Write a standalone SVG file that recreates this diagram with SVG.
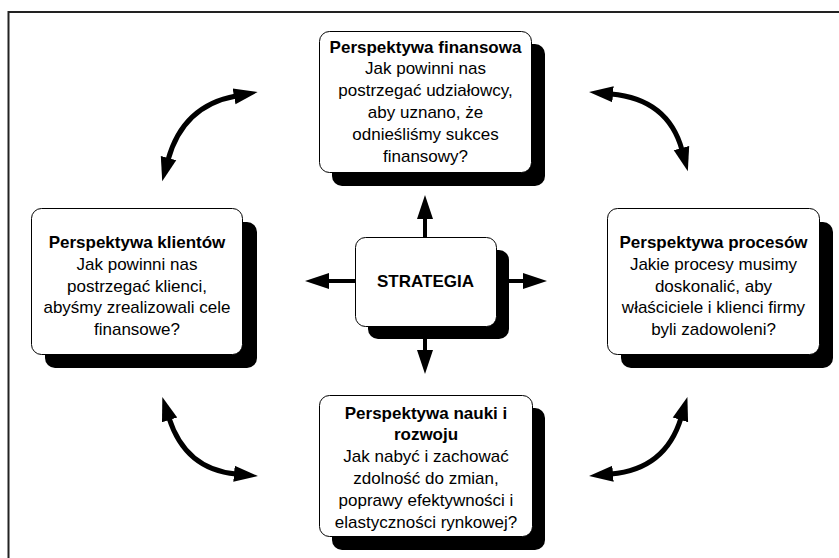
<svg xmlns="http://www.w3.org/2000/svg" width="839" height="558" viewBox="0 0 839 558">
<style>
  .frame{fill:none;stroke:#222;stroke-width:2}
  .shadow{fill:#000}
  .box{fill:#fff;stroke:#000;stroke-width:1}
  .t{font-family:"Liberation Sans",Arial,sans-serif;font-size:17px;fill:#000;text-anchor:middle}
  .b{font-weight:bold}
  .straight{fill:none;stroke:#000;stroke-width:4}
  .curve{fill:none;stroke:#000;stroke-width:5}
</style>
<defs>
  <marker id="head" markerUnits="userSpaceOnUse" markerWidth="26" markerHeight="20" viewBox="0 0 26 20" refX="2" refY="10" orient="auto-start-reverse">
    <path d="M0,2 L24,10 L0,18 z" fill="#000"/>
  </marker>
</defs>
<rect width="839" height="558" fill="#fff"/>
<path class="frame" d="M8.5,558 V12 H839"/>

<g id="connectors">
  <line class="straight" x1="425" y1="281" x2="425" y2="217" marker-end="url(#head)"/>
  <line class="straight" x1="425" y1="281" x2="425" y2="352" marker-end="url(#head)"/>
  <line class="straight" x1="425" y1="281" x2="327" y2="281" marker-end="url(#head)"/>
  <line class="straight" x1="425" y1="281" x2="525" y2="281" marker-end="url(#head)"/>
  <path class="curve" d="M168,160 Q182.8,105.7 236,96" marker-start="url(#head)" marker-end="url(#head)"/>
  <path class="curve" d="M611,94 Q668,99 682,150" marker-start="url(#head)" marker-end="url(#head)"/>
  <path class="curve" d="M169,418 Q185.4,469.4 236,474" marker-start="url(#head)" marker-end="url(#head)"/>
  <path class="curve" d="M611,474 Q665.4,469.3 681,418" marker-start="url(#head)" marker-end="url(#head)"/>
</g>

<g id="strategia">
  <rect class="shadow" x="368" y="250" width="141" height="89" rx="10"/>
  <rect class="box" x="355.5" y="237.5" width="141" height="89" rx="10"/>
  <text class="t b" x="425.5" y="287">STRATEGIA</text>
</g>

<g id="finansowa">
  <rect class="shadow" x="332" y="44" width="213" height="142" rx="10"/>
  <rect class="box" x="319.5" y="31.5" width="212" height="141" rx="10"/>
  <text class="t" x="425.5" y="52.5"><tspan class="b">Perspektywa finansowa</tspan><tspan x="425.5" dy="21.8">Jak powinni nas</tspan><tspan x="425.5" dy="21.8">postrzegać udziałowcy,</tspan><tspan x="425.5" dy="21.8">aby uznano, że</tspan><tspan x="425.5" dy="21.8">odnieśliśmy sukces</tspan><tspan x="425.5" dy="21.8">finansowy?</tspan></text>
</g>

<g id="klientow">
  <rect class="shadow" x="45" y="222" width="212" height="146" rx="10"/>
  <rect class="box" x="31.5" y="208.5" width="211" height="146" rx="10"/>
  <text class="t" x="137" y="248"><tspan class="b">Perspektywa klientów</tspan><tspan x="137" dy="21.8">Jak powinni nas</tspan><tspan x="137" dy="21.8">postrzegać klienci,</tspan><tspan x="137" dy="21.8">abyśmy zrealizowali cele</tspan><tspan x="137" dy="21.8">finansowe?</tspan></text>
</g>

<g id="procesow">
  <rect class="shadow" x="621" y="222" width="212" height="146" rx="10"/>
  <rect class="box" x="607.5" y="208.5" width="212" height="146" rx="10"/>
  <text class="t" x="713.5" y="248"><tspan class="b">Perspektywa procesów</tspan><tspan x="713.5" dy="21.8">Jakie procesy musimy</tspan><tspan x="713.5" dy="21.8">doskonalić, aby</tspan><tspan x="713.5" dy="21.8">właściciele i klienci firmy</tspan><tspan x="713.5" dy="21.8">byli zadowoleni?</tspan></text>
</g>

<g id="nauki">
  <rect class="shadow" x="332" y="408" width="213" height="142" rx="10"/>
  <rect class="box" x="319.5" y="395.5" width="213" height="141" rx="10"/>
  <text class="t" x="426" y="418.5"><tspan class="b">Perspektywa nauki i</tspan><tspan class="b" x="426" dy="21.8">rozwoju</tspan><tspan x="426" dy="21.8">Jak nabyć i zachować</tspan><tspan x="426" dy="21.8">zdolność do zmian,</tspan><tspan x="426" dy="21.8">poprawy efektywności i</tspan><tspan x="426" dy="21.8">elastyczności rynkowej?</tspan></text>
</g>
</svg>
